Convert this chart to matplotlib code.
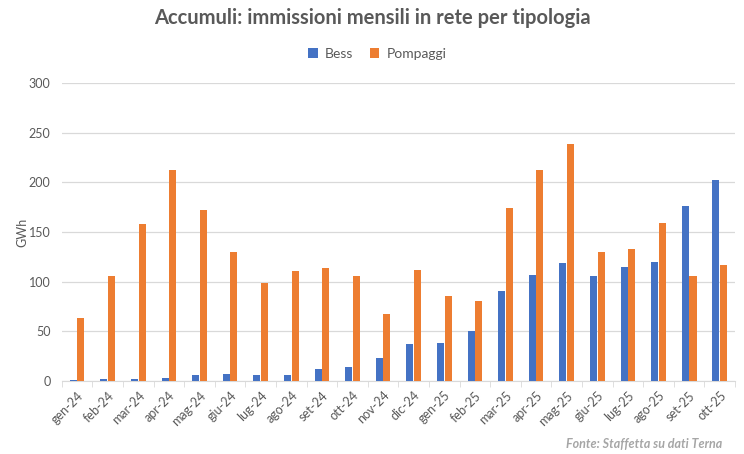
import numpy as np
import matplotlib.pyplot as plt

plt.rcParams["font.family"] = ["Lato", "DejaVu Sans"]

months = ["gen-24", "feb-24", "mar-24", "apr-24", "mag-24", "giu-24", "lug-24",
          "ago-24", "set-24", "ott-24", "nov-24", "dic-24", "gen-25", "feb-25",
          "mar-25", "apr-25", "mag-25", "giu-25", "lug-25", "ago-25", "set-25",
          "ott-25"]
bess = [1, 2, 2, 3, 6, 7, 6, 6, 12, 14, 23, 37, 38, 50, 91, 107, 119, 106,
        115, 120, 176, 202]
pompaggi = [63, 106, 158, 212, 172, 130, 99, 111, 114, 106, 67, 112, 86, 80,
            174, 212, 239, 130, 133, 159, 106, 117]

BLUE = "#4472C4"
ORANGE = "#ED7D31"
GRAY = "#595959"
GRID = "#D9D9D9"

fig = plt.figure(figsize=(7.44, 4.54), dpi=100)
ax = fig.add_axes([0.083, 0.161, 0.905, 0.656])

x = np.arange(len(months))
w = 0.23
ax.bar(x - 0.125, bess, w, color=BLUE, label="Bess", zorder=3)
ax.bar(x + 0.125, pompaggi, w, color=ORANGE, label="Pompaggi", zorder=3)

ax.set_xlim(-0.5, len(months) - 0.5)
ax.set_ylim(0, 300)
ax.set_yticks(range(0, 301, 50))
ax.grid(axis="y", color=GRID, linewidth=0.9, zorder=0)
ax.set_axisbelow(True)

for s in ["top", "right", "left"]:
    ax.spines[s].set_visible(False)
ax.spines["bottom"].set_color(GRID)

ax.set_xticks(x)
ax.set_xticklabels(months, rotation=45, ha="right", rotation_mode="anchor",
                   fontsize=9, color=GRAY)
ax.tick_params(axis="x", which="major", length=0, pad=6)
ax.set_xticks(np.arange(-0.5, len(months), 1), minor=True)
ax.tick_params(axis="x", which="minor", length=4, color=GRID)
ax.tick_params(axis="y", length=0, labelsize=9, labelcolor=GRAY, pad=8)

ax.set_ylabel("GWh", fontsize=9, color=GRAY)
ax.yaxis.set_label_coords(-0.05, 0.5)

fig.text(0.5, 0.96, "Accumuli: immissioni mensili in rete per tipologia",
         ha="center", va="center", fontsize=14.5, fontweight="bold", color=GRAY)
fig.legend(loc="center", bbox_to_anchor=(0.507, 0.881), ncol=2, frameon=False,
           fontsize=10, handlelength=0.7, handleheight=0.7, columnspacing=1.2,
           handletextpad=0.5, labelcolor=GRAY)
fig.text(0.971, 0.022, "Fonte: Staffetta su dati Terna", ha="right",
         va="center", fontsize=9, fontstyle="italic", fontweight="bold",
         color="#A6A6A6")

fig.savefig("out.png", dpi=100)
